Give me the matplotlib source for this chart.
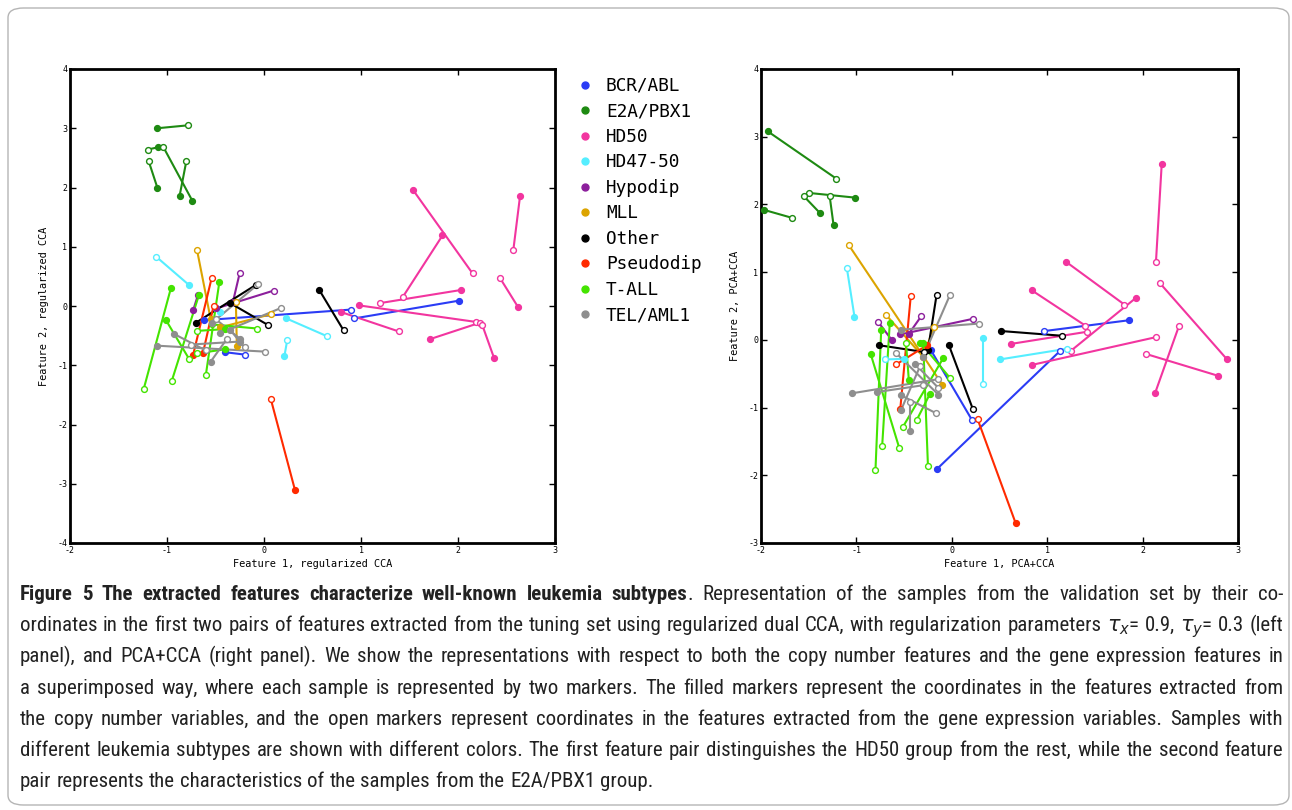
"""Leukemia subtype features: regularized CCA vs PCA+CCA."""
import matplotlib
matplotlib.use("Agg")
import matplotlib.pyplot as plt
from matplotlib.lines import Line2D
from matplotlib.patches import FancyBboxPatch
from matplotlib import font_manager

plt.rcParams["font.family"] = "DejaVu Sans Mono"
plt.rcParams["axes.unicode_minus"] = False

GROUPS = ["BCR/ABL", "E2A/PBX1", "HD50", "HD47-50", "Hypodip",
          "MLL", "Other", "Pseudodip", "T-ALL", "TEL/AML1"]
COLORS = ["#2b3cf5", "#1e8a12", "#f2359f", "#55eeff", "#8c1f9c",
          "#dca400", "#000000", "#ff2a00", "#44e400", "#8e8e8e"]

# each sample: (filled x, filled y, open x, open y)
# filled = copy number features, open = gene expression features
left_bcr = [(2.01, 0.09, 0.93, -0.21), (-0.62, -0.24, 0.90, -0.06),
            (-0.40, -0.78, -0.20, -0.82)]
left_e2a = [(-1.10, 3.00, -0.78, 3.05), (-1.09, 2.68, -1.20, 2.64),
            (-0.74, 1.78, -1.04, 2.69), (-1.10, 2.00, -1.19, 2.45),
            (-0.87, 1.86, -0.80, 2.45)]
left_hd50 = [(1.54, 1.95, 2.15, 0.55), (1.84, 1.19, 1.43, 0.15),
             (2.64, 1.86, 2.57, 0.94), (2.62, -0.02, 2.43, 0.48),
             (2.03, 0.27, 1.20, 0.05), (0.98, 0.01, 2.19, -0.27),
             (0.79, -0.10, 1.39, -0.43), (1.71, -0.56, 2.23, -0.28),
             (2.37, -0.87, 2.25, -0.32)]
left_hd4750 = [(-0.77, 0.35, -1.11, 0.83), (0.23, -0.21, 0.65, -0.51),
               (0.21, -0.85, 0.24, -0.57), (-0.45, -0.10, -0.50, -0.03)]
left_hypo = [(-0.32, 0.07, -0.25, 0.56), (-0.49, -0.04, 0.10, 0.26),
             (-0.73, -0.07, -0.68, 0.19)]
left_mll = [(-0.55, -0.22, -0.69, 0.94), (-0.28, -0.67, -0.29, 0.07),
            (-0.45, -0.36, 0.07, -0.14)]
left_other = [(0.57, 0.27, 0.82, -0.41), (-0.70, -0.28, -0.08, 0.36),
              (-0.35, 0.05, 0.04, -0.32)]
left_pseudo = [(-0.73, -0.82, -0.54, 0.47), (-0.63, -0.80, -0.52, 0.00),
               (0.32, -3.11, 0.07, -1.57)]
left_tall = [(-0.96, 0.30, -1.24, -1.40), (-0.67, 0.19, -0.95, -1.26),
             (-0.46, 0.41, -0.60, -1.17), (-1.01, -0.24, -0.77, -0.90),
             (-0.54, -0.31, -0.07, -0.38), (-0.40, -0.39, -0.69, -0.42),
             (-0.40, -0.73, -0.69, -0.80)]
left_tel = [(-1.10, -0.67, 0.01, -0.77), (-0.93, -0.47, -0.60, -0.75),
            (-0.45, -0.46, 0.18, -0.03), (-0.54, -0.29, -0.06, 0.37),
            (-0.25, -0.55, -0.50, -0.22), (-0.55, -0.94, -0.38, -0.55),
            (-0.25, -0.60, -0.75, -0.65), (-0.35, -0.40, -0.20, -0.70)]

right_bcr = [(1.86, 0.29, 0.97, 0.13), (-0.15, -1.90, 1.13, -0.17),
             (-0.22, -0.15, 0.21, -1.18)]
right_e2a = [(-1.93, 3.08, -1.21, 2.38), (-1.97, 1.92, -1.67, 1.80),
             (-1.01, 2.10, -1.50, 2.17), (-1.38, 1.87, -1.55, 2.12),
             (-1.24, 1.70, -1.28, 2.12)]
right_hd50 = [(2.20, 2.59, 2.14, 1.15), (1.20, 1.15, 1.81, 0.52),
              (0.84, 0.73, 1.40, 0.21), (1.93, 0.62, 1.25, -0.16),
              (0.62, -0.06, 1.42, 0.12), (0.84, -0.37, 2.14, 0.04),
              (2.88, -0.28, 2.18, 0.84), (2.79, -0.53, 2.04, -0.21),
              (2.13, -0.79, 2.38, 0.20)]
right_hd4750 = [(-1.02, 0.34, -1.10, 1.06), (0.33, 0.03, 0.33, -0.65),
                (0.50, -0.29, 1.21, -0.13), (-0.50, -0.28, -0.70, -0.29)]
right_hypo = [(-0.54, 0.08, 0.22, 0.31), (-0.63, 0.00, -0.77, 0.26),
              (-0.45, 0.09, -0.32, 0.35)]
right_mll = [(-0.10, -0.66, -1.08, 1.40), (-0.30, -0.25, -0.69, 0.37),
             (-0.26, -0.10, -0.19, 0.19)]
right_other = [(0.52, 0.13, 1.16, 0.06), (-0.03, -0.08, 0.22, -1.02),
               (-0.25, -0.15, -0.16, 0.66), (-0.76, -0.08, -0.29, -0.18)]
right_pseudo = [(-0.54, -1.02, -0.43, 0.65), (-0.26, -0.08, -0.58, -0.36),
                (0.67, -2.71, 0.27, -1.17)]
right_tall = [(-0.74, 0.15, -0.80, -1.92), (-0.65, 0.25, -0.73, -1.57),
              (-0.85, -0.21, -0.55, -1.60), (-0.30, -0.04, -0.25, -1.86),
              (-0.09, -0.27, -0.51, -1.28), (-0.33, -0.04, -0.02, -0.56),
              (-0.23, -0.80, -0.37, -1.19), (-0.45, -0.60, -0.48, -0.05)]
right_tel = [(-1.05, -0.79, -0.14, -0.58), (-0.30, -0.25, -0.02, 0.66),
             (-0.53, 0.15, 0.28, 0.24), (-0.14, -0.81, -0.58, -0.20),
             (-0.53, -0.82, -0.17, -1.08), (-0.44, -1.35, -0.44, -0.92),
             (-0.78, -0.77, -0.30, -0.67), (-0.53, -1.03, -0.33, -0.38),
             (-0.39, -0.35, -0.14, -0.71)]

left_data = [left_bcr, left_e2a, left_hd50, left_hd4750, left_hypo,
             left_mll, left_other, left_pseudo, left_tall, left_tel]
right_data = [right_bcr, right_e2a, right_hd50, right_hd4750, right_hypo,
              right_mll, right_other, right_pseudo, right_tall, right_tel]

caption = [
    [("Figure 5 The extracted features characterize well-known leukemia subtypes", "bold"),
     (". Representation of the samples from the validation set by their co-", "normal")],
    [("ordinates in the first two pairs of features extracted from the tuning set using "
      "regularized dual CCA, with regularization parameters $\\tau_x$= 0.9, $\\tau_y$= 0.3 (left", "normal")],
    [("panel), and PCA+CCA (right panel). We show the representations with respect to both "
      "the copy number features and the gene expression features in", "normal")],
    [("a superimposed way, where each sample is represented by two markers. The filled markers "
      "represent the coordinates in the features extracted from", "normal")],
    [("the copy number variables, and the open markers represent coordinates in the features "
      "extracted from the gene expression variables. Samples with", "normal")],
    [("different leukemia subtypes are shown with different colors. The first feature pair "
      "distinguishes the HD50 group from the rest, while the second feature", "normal")],
    [("pair represents the characteristics of the samples from the E2A/PBX1 group.", "normal")],
]

W, H = 1292, 810


def px_box(x0, y0, x1, y1):
    return [x0 / W, 1 - y1 / H, (x1 - x0) / W, (y1 - y0) / H]


def draw_panel(ax, data, ylim, xlabel, ylabel):
    for samples, color in zip(data, COLORS):
        for fx, fy, ox, oy in samples:
            ax.plot([fx, ox], [fy, oy], color=color, lw=1.5, zorder=2)
            ax.plot(fx, fy, "o", color=color, ms=4.2, zorder=3)
            ax.plot(ox, oy, "o", mfc="white", mec=color, mew=1.0, ms=4.2, zorder=3)
    ax.set_xlim(-2, 3)
    ax.set_ylim(*ylim)
    ax.set_xticks(range(-2, 4))
    ax.set_yticks(range(ylim[0], ylim[1] + 1))
    ax.tick_params(direction="in", top=True, right=True, length=4, width=1,
                   labelsize=6, pad=2)
    for s in ax.spines.values():
        s.set_linewidth(2)
    ax.set_xlabel(xlabel, fontsize=7.4, labelpad=3)
    ax.set_ylabel(ylabel, fontsize=7.4, labelpad=6)


fig = plt.figure(figsize=(W / 100, H / 100), dpi=100)

ax1 = fig.add_axes(px_box(70, 69, 555, 543))
draw_panel(ax1, left_data, (-4, 4), "Feature 1, regularized CCA",
           "Feature 2, regularized CCA")
ax2 = fig.add_axes(px_box(761, 69, 1238, 543))
draw_panel(ax2, right_data, (-3, 4), "Feature 1, PCA+CCA", "Feature 2, PCA+CCA")

handles = [Line2D([], [], marker="o", ls="", color=c, ms=5) for c in COLORS]
fig.legend(handles, GROUPS, loc="upper left", bbox_to_anchor=(580 / W, 1 - 77 / H),
           frameon=False, prop={"family": "DejaVu Sans Mono", "size": 12.8},
           handlelength=0.6, handletextpad=0.85, labelspacing=0.42,
           borderaxespad=0, borderpad=0)

# frame around the figure
fig.patches.append(FancyBboxPatch((8 / W, 5 / H), 1281 / W, 797 / H,
                                  boxstyle="round,pad=0,rounding_size=0.012",
                                  transform=fig.transFigure, fill=False,
                                  ec="#b5b5b5", lw=1))

# caption, justified line by line
names = {f.name for f in font_manager.fontManager.ttflist}
cap_font = "Liberation Sans"
for cand in ["Roboto Condensed", "Liberation Sans Narrow", "Open Sans Condensed", "Roboto"]:
    if cand in names:
        cap_font = cand
        break
renderer = fig.canvas.get_renderer()
x_left, x_right = 20, 1283
for i, segs in enumerate(caption):
    y = 1 - (600 + i * 31.2) / H
    tokens = []
    for seg_text, weight in segs:
        for j, word in enumerate(seg_text.split(" ")):
            if word == "":
                continue
            gap = not (j == 0 and tokens)
            t = fig.text(0, y, word, fontsize=15, family=cap_font,
                         weight=weight, color="#222222", va="baseline")
            tokens.append((t, gap))
    widths = [t.get_window_extent(renderer).width for t, _ in tokens]
    n_gaps = sum(1 for k, (_, g) in enumerate(tokens) if g and k > 0)
    if i < len(caption) - 1:
        space = (x_right - x_left - sum(widths)) / max(n_gaps, 1)
    else:
        space = 5.0
    x = x_left
    for k, ((t, g), w) in enumerate(zip(tokens, widths)):
        if k > 0 and g:
            x += space
        t.set_x(x / W)
        x += w

fig.savefig("out.png", dpi=100)
